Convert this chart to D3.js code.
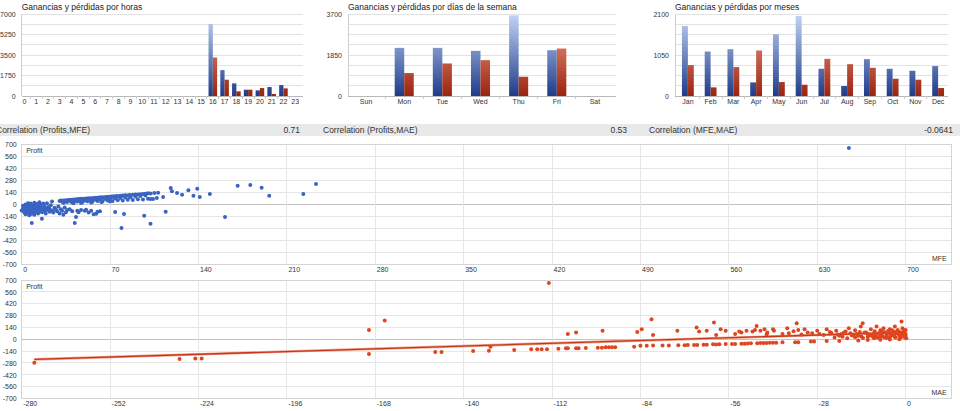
<!DOCTYPE html>
<html>
<head>
<meta charset="utf-8">
<script src="https://d3js.org/d3.v7.min.js"></script>
<style>
  html, body { margin: 0; padding: 0; background: #fff; }
  svg { display: block; font-family: "Liberation Sans", Arial, sans-serif; }
</style>
</head>
<body>
<svg id="chart" width="960" height="411"></svg>
<script>
// ---- data ----
const hourLabels = ["0","1","2","3","4","5","6","7","8","9","10","11","12","13","14","15","16","17","18","19","20","21","22","23"];
const hourProfits = [0,0,0,0,0,0,0,0,0,0,0,0,0,0,0,0,6150,2210,1077,538,482,765,935,0];
const hourLosses  = [0,0,0,0,0,0,0,0,0,0,0,0,0,0,0,0,3290,1390,397,538,680,170,652,0];
const hourTicks = [0, 1750, 3500, 5250, 7000];

const dayLabels = ["Sun","Mon","Tue","Wed","Thu","Fri","Sat"];
const dayProfits = [0, 2172, 2172, 2037, 3640, 2067, 0];
const dayLosses  = [0, 1034, 1468, 1618, 869, 2142, 0];
const dayTicks = [0, 1850, 3700];

const monthLabels = ["Jan","Feb","Mar","Apr","May","Jun","Jul","Aug","Sep","Oct","Nov","Dec"];
const monthProfits = [1794, 1139, 1199, 349, 1581, 2049, 697, 255, 944, 697, 646, 765];
const monthLosses  = [791, 221, 740, 1165, 357, 289, 952, 816, 723, 442, 417, 204];
const monthTicks = [0, 1050, 2100];

const corrLabels = ["Correlation (Profits,MFE)", "Correlation (Profits,MAE)", "Correlation (MFE,MAE)"];
const corrValues = ["0.71", "0.53", "-0.0641"];

const profitTicks = [-700, -560, -420, -280, -140, 0, 140, 280, 420, 560, 700];
const mfeTicks = [0, 70, 140, 210, 280, 350, 420, 490, 560, 630, 700];
const maeTicks = [-280, -252, -224, -196, -168, -140, -112, -84, -56, -28, 0];

// [MFE, Profit]
const mfePoints = [
  [0,-75],[1,-20],[1,-55],[2,-95],[2,-40],[3,-70],[3,-5],[3,-120],[4,-60],[4,-30],[4,-88],
  [5,-45],[5,10],[5,-105],[6,-65],[6,-130],[6,-25],[7,-80],[7,-50],[7,5],[7,-100],[8,-222],
  [8,-35],[8,-70],[8,-115],[9,-10],[9,-55],[9,-90],[10,-75],[10,-40],[10,15],[10,-125],
  [11,-60],[11,-20],[11,-95],[12,-80],[12,-45],[12,0],[13,-65],[13,-110],[13,-30],[14,-86],
  [14,-50],[14,20],[15,-70],[15,-10],[16,-171],[16,-40],[16,-95],[17,-60],[17,5],[18,-80],
  [18,-25],[19,-50],[19,-110],[20,-70],[20,10],[21,-35],[22,-90],[22,-55],[23,-15],[24,-75],
  [24,30],[25,-100],[26,-45],[27,-65],[28,-85],[29,-30],[30,-110],[31,-60],[32,-80],[33,-124],
  [34,-40],[35,-95],[36,-70],[38,-60],[40,-85],[42,-222],[43,-152],[44,-78],[45,-95],[47,-70],
  [50,-80],[51,-66],[53,-100],[55,-78],[57,-120],[59,-113],[60,-90],[62,-86],[74,-93],
  [79,-280],[81,-117],[97,-136],[102,-229],[114,-89],[161,-152],
  [30,35],[31,40],[32,30],[33,42],[34,38],[35,45],[36,40],[37,48],[38,43],[39,50],[40,46],
  [41,52],[42,48],[43,55],[44,50],[45,57],[46,53],[47,60],[48,55],[49,62],[50,58],[51,64],
  [52,60],[53,66],[54,62],[55,68],[56,64],[57,71],[58,67],[59,73],[60,69],[61,76],[62,72],
  [63,78],[64,74],[65,80],[66,76],[67,83],[68,79],[69,85],[70,81],[71,88],[72,84],[73,90],
  [74,86],[75,93],[76,89],[78,96],[79,92],[80,99],[82,102],[83,98],[85,105],[86,101],[88,108],
  [90,112],[92,110],[94,115],[96,118],[98,120],[100,125],[102,122],[105,128],[108,130],
  [33,15],[36,22],[40,18],[44,28],[48,20],[52,32],[56,25],[60,36],[64,30],[68,40],[72,34],
  [76,45],[80,40],[84,50],[88,48],[92,55],[96,52],[100,62],[104,58],
  [35,28],[39,30],[42,35],[46,38],[50,42],[54,45],[58,50],[62,54],[66,58],[70,62],[74,66],
  [78,70],[82,76],[86,80],[90,88],[94,92],[98,98],[41,8],[47,12],[55,18],[63,22],[70,28],
  [102,58],[107,70],[112,82],[118,187],[119,148],[123,128],[127,109],[132,159],[136,97],
  [139,179],[141,82],[149,117],[171,214],[181,222],[190,191],[196,97],[223,117],[233,233],
  [655,653]
];

// [MAE, Profit]
const maePoints = [
  [-276,-277],[-230,-234],[-225,-226],[-223,-226],[-170,110],[-170,-174],[-165,221],
  [-149,-151],[-147,-151],[-137,-139],[-132,-135],[-131.5,-88],[-124,-127],[-118.6,-119],
  [-116.7,-119],[-115.3,-119],[-113.6,-119],[-113,664],[-110,-111],[-107.6,-107],[-107,-107],
  [-107,63],[-104.4,79],[-104.4,-107],[-103.6,-107],[-101.3,-103],[-97.5,-99],[-96.2,-99],
  [-96,99],[-95,-95],[-94,-95],[-93,-95],[-92,-95],[-86,-88],[-85,87],
  [-84,-78],[-82,-76],[-80,-75],[-77,-75],[-75,-74],[-72,-72],[-70,-70],[-69,-69],[-67,-68],
  [-66,-67],[-64,-66],[-63,-64],[-61,-60],[-60,-61],[-59,-59],[-57,-56],[-55,-56],[-54,-55],
  [-52,-53],[-51,-52],[-50,-50],[-49,-48],[-47,-46],[-46,-45],[-45,-44],[-44,-45],[-43,-42],
  [-42,-40],[-41,-41],[-39,-36],[-35,-34],[-34,-35],[-30,-28],[-29,-28],[-25,-20],[-21,-20],
  [-15,-15],[-12,-10],[-8,-5],[-5,-3],[-2,0],
  [-83.6,118],[-80.5,237],[-80,51],[-72.3,99],[-66.2,138],[-65.4,91],[-63,99],[-60.7,198],
  [-60,51],[-58.6,118],[-52.7,91],[-50.4,99],[-48.5,91],[-47.7,110],[-47.2,158],[-46,99],
  [-44.7,118],[-43.8,79],[-41.7,99],[-37.5,130],[-37,71],[-34.5,190],[-34,110],[-32,118],
  [-29.6,71],[-27.3,63],[-25,118],[-23.5,75],[-22,99],[-20.3,63],[-19,91],[-17.5,71],[-16,107],
  [-15,40],[-14.2,150],[-13.6,190],[-13,79],[-12,59],[-11,118],[-10.5,35],[-9.8,95],[-9.2,150],
  [-8.5,71],[-8,107],[-7.5,51],[-7,130],[-6.5,83],[-6,40],[-5.5,99],[-5,118],[-4.5,63],[-4,91],
  [-3.4,150],[-3,71],[-2.5,110],[-2,40],[-1.8,87],[-1.3,209],[-1,130],[-0.8,59],[-0.5,99],
  [-0.3,71],[0,40],[0,110],[-1.5,20],[-3.5,30],[-6.2,15],[-9,25],[-11.5,45],[-14.5,87],
  [-16.5,55],[-18,130],[-21,40],[-24,87],[-26,51],[-28,99],[-31,79],[-33,55],[-35.5,95],
  [-39,63],[-42,118],[-44,60],[-52,79],[-54,63],[-57,99],
  [-22.5,20],[-21.5,55],[-20,30],[-19.5,79],[-18.5,12],[-17,45],[-16,24],[-15.5,63],[-14,32],
  [-13.5,16],[-12.5,79],[-12,28],[-11,51],[-10,12],[-10,67],[-9.5,40],[-8.8,20],[-8.2,59],
  [-7.8,32],[-7.2,87],[-6.8,24],[-6,55],[-5.2,16],[-5,75],[-4.8,36],[-4.2,107],[-3.8,48],
  [-3.2,20],[-2.8,91],[-2.2,59],[-1.6,32],[-1.2,75],[-0.6,48],[-0.2,20],[0,63],[0.2,12]
];

// trend line: [MAE, Profit] at both ends
const maeTrend = [[-276, -238], [0, 82]];

// ---- drawing ----
const svg = d3.select("#chart");
const plain = d => String(d);  // hyphen minus like the original, not U+2212

const defs = svg.append("defs");
function gradient(id, top, bottom) {
  const g = defs.append("linearGradient")
    .attr("id", id)
    .attr("gradientUnits", "userSpaceOnUse")
    .attr("x1", 0).attr("x2", 0)
    .attr("y1", 14).attr("y2", 96);
  g.append("stop").attr("offset", 0).attr("stop-color", top);
  g.append("stop").attr("offset", 1).attr("stop-color", bottom);
}
gradient("gBlue", "#c2d5f5", "#1f3b8a");
gradient("gRed", "#f4a690", "#9a2410");

function barChart(o) {
  const g = svg.append("g");
  const y = d3.scaleLinear().domain([0, o.max]).range([96, 14]);
  const x = d3.scaleBand().domain(o.labels).range(o.band).paddingInner(o.pad).paddingOuter(o.pad / 2);

  g.append("text")
    .attr("x", o.left).attr("y", 9.5)
    .style("font-size", "8.5px").attr("fill", "#222")
    .text(o.title);

  // grid lines, 8 steps
  g.append("g").selectAll("line")
    .data(d3.range(9).map(i => o.max * i / 8))
    .enter().append("line")
      .attr("x1", o.left).attr("x2", o.right)
      .attr("y1", d => y(d)).attr("y2", d => y(d))
      .attr("stroke", d => d === 0 ? "#b8b8b8" : "#e2e2e2")
      .attr("shape-rendering", "crispEdges");

  g.append("line")
    .attr("x1", o.left).attr("x2", o.left)
    .attr("y1", 14).attr("y2", 96)
    .attr("stroke", "#d0d0d0")
    .attr("shape-rendering", "crispEdges");

  // separators under the axis
  const step = x.step();
  g.append("g").selectAll("line")
    .data(o.labels.slice(1))
    .enter().append("line")
      .attr("x1", d => x(d) - (step - x.bandwidth()) / 2)
      .attr("x2", d => x(d) - (step - x.bandwidth()) / 2)
      .attr("y1", 96).attr("y2", 99)
      .attr("stroke", "#c8c8c8")
      .attr("shape-rendering", "crispEdges");

  const yAxis = d3.axisLeft(y).tickValues(o.ticks).tickSize(0).tickPadding(0).tickFormat(plain);
  g.append("g")
    .attr("transform", `translate(${o.left - 6},0)`)
    .call(yAxis)
    .call(a => a.select(".domain").remove())
    .call(a => a.selectAll("text").style("font-size", "7px").attr("fill", "#333").style("font-family", "inherit"));

  const xAxis = d3.axisBottom(x).tickSize(0).tickPadding(0);
  g.append("g")
    .attr("transform", "translate(0,99)")
    .call(xAxis)
    .call(a => a.select(".domain").remove())
    .call(a => a.selectAll("text").style("font-size", "7px").attr("fill", "#333").style("font-family", "inherit"));

  const w = x.bandwidth() / 2;
  g.append("g").selectAll("rect")
    .data(o.labels.map((l, i) => ({ l, v: o.profits[i] })).filter(d => d.v > 0))
    .enter().append("rect")
      .attr("x", d => x(d.l)).attr("width", w)
      .attr("y", d => y(d.v)).attr("height", d => y(0) - y(d.v))
      .attr("fill", "url(#gBlue)");
  g.append("g").selectAll("rect")
    .data(o.labels.map((l, i) => ({ l, v: o.losses[i] })).filter(d => d.v > 0))
    .enter().append("rect")
      .attr("x", d => x(d.l) + w).attr("width", w)
      .attr("y", d => y(d.v)).attr("height", d => y(0) - y(d.v))
      .attr("fill", "url(#gRed)");
}

barChart({ title: "Ganancias y pérdidas por horas", left: 21.7, right: 303, band: [18.6, 301.1], pad: 0.27,
  max: 7000, ticks: hourTicks, labels: hourLabels, profits: hourProfits, losses: hourLosses });
barChart({ title: "Ganancias y pérdidas por días de la semana", left: 348, right: 616, band: [347, 614], pad: 0.5,
  max: 3700, ticks: dayTicks, labels: dayLabels, profits: dayProfits, losses: dayLosses });
barChart({ title: "Ganancias y pérdidas por meses", left: 675, right: 948, band: [676.5, 949.5], pad: 0.48,
  max: 2100, ticks: monthTicks, labels: monthLabels, profits: monthProfits, losses: monthLosses });

// correlation strip (the first label runs off the left edge in the original too)
svg.append("rect").attr("x", 0).attr("y", 124).attr("width", 960).attr("height", 12).attr("fill", "#e9e9e9");
const corrStart = [-4, 323, 649];
const corr = svg.append("g").style("font-size", "8.5px").attr("fill", "#333");
corr.selectAll("text.lab").data(corrLabels).enter().append("text")
  .attr("class", "lab").attr("x", (d, i) => corrStart[i]).attr("y", 133.3).text(d => d);
corr.selectAll("text.val").data(corrValues).enter().append("text")
  .attr("class", "val").attr("x", (d, i) => corrStart[i] + 304).attr("y", 133.3)
  .attr("text-anchor", "end").text(d => d);

function scatter(o) {
  const g = svg.append("g");
  const L = 21.7, R = 951.7;
  const x = d3.scaleLinear().domain(o.xDomain).range([L, R]);
  const y = d3.scaleLinear().domain([-700, 700]).range([o.bottom, o.top]);

  g.append("g").selectAll("line")
    .data(profitTicks)
    .enter().append("line")
      .attr("x1", L).attr("x2", R)
      .attr("y1", d => y(d)).attr("y2", d => y(d))
      .attr("stroke", d => d === 0 ? "#c4c4c4" : "#e6e6e6")
      .attr("shape-rendering", "crispEdges");
  g.append("g").selectAll("line")
    .data(o.xTicks)
    .enter().append("line")
      .attr("x1", d => x(d)).attr("x2", d => x(d))
      .attr("y1", o.top).attr("y2", o.bottom)
      .attr("stroke", "#e6e6e6")
      .attr("shape-rendering", "crispEdges");
  g.append("rect")
    .attr("x", L).attr("y", o.top).attr("width", R - L).attr("height", o.bottom - o.top)
    .attr("fill", "none").attr("stroke", "#d4d4d4")
    .attr("shape-rendering", "crispEdges");

  const yAxis = d3.axisLeft(y).tickValues(profitTicks).tickSize(0).tickPadding(0).tickFormat(plain);
  g.append("g")
    .attr("transform", `translate(${L - 5},0)`)
    .call(yAxis)
    .call(a => a.select(".domain").remove())
    .call(a => a.selectAll("text").style("font-size", "7px").attr("fill", "#333").style("font-family", "inherit"));

  const xAxis = d3.axisBottom(x).tickValues(o.xTicks).tickSize(0).tickPadding(0).tickFormat(plain);
  g.append("g")
    .attr("transform", `translate(0,${o.bottom + 3})`)
    .call(xAxis)
    .call(a => a.select(".domain").remove())
    .call(a => a.selectAll("text").style("font-size", "7px").attr("fill", "#333")
      .style("font-family", "inherit").attr("text-anchor", "start").attr("dx", 1));

  g.append("text").attr("x", L + 4.5).attr("y", o.top + 9).style("font-size", "7px").attr("fill", "#333").text("Profit");
  g.append("text").attr("x", R - 5).attr("y", o.bottom - 3.5).attr("text-anchor", "end")
    .style("font-size", "7px").attr("fill", "#333").text(o.xLabel);

  if (o.trend) {
    const line = d3.line().x(d => x(d[0])).y(d => y(d[1]));
    g.append("path").datum(o.trend).attr("d", line)
      .attr("fill", "none").attr("stroke", "#f0a08a").attr("stroke-width", 2.6);
    g.append("path").datum(o.trend).attr("d", line)
      .attr("fill", "none").attr("stroke", "#c7361a").attr("stroke-width", 1.3);
  }

  g.append("g").selectAll("circle")
    .data(o.points)
    .enter().append("circle")
      .attr("cx", d => x(d[0])).attr("cy", d => y(d[1]))
      .attr("r", 2).attr("fill", o.color);
}

scatter({ top: 144, bottom: 264, xDomain: [0, 736.4], xTicks: mfeTicks, points: mfePoints, color: "#3a64c2", xLabel: "MFE" });
scatter({ top: 280, bottom: 398.5, xDomain: [-280, 14.6], xTicks: maeTicks, points: maePoints, color: "#de4620", xLabel: "MAE", trend: maeTrend });
</script>
</body>
</html>
